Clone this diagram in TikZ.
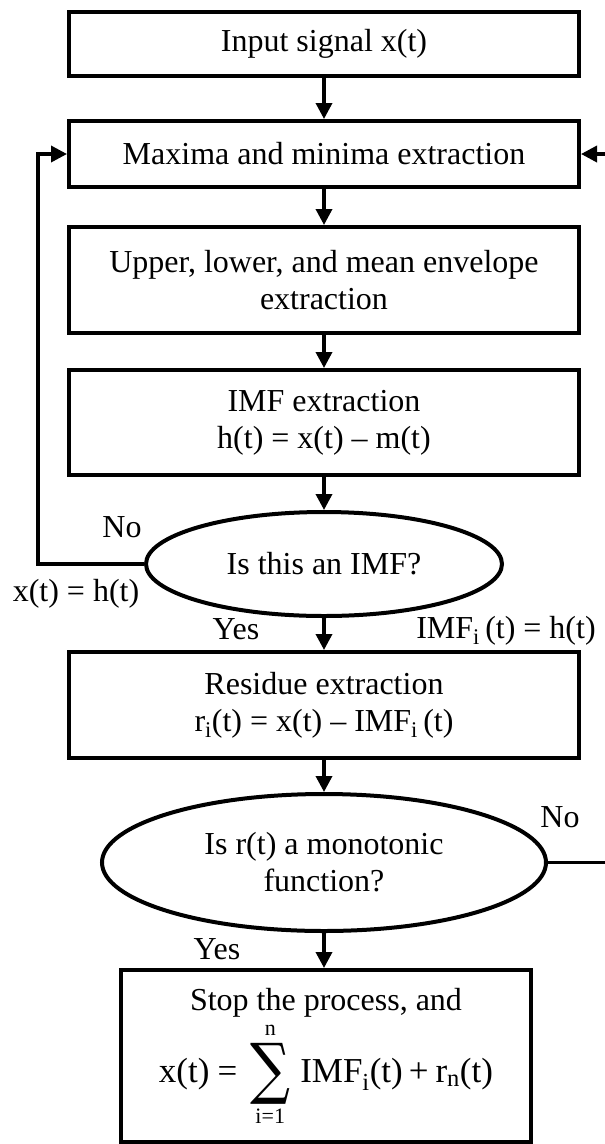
\documentclass[tikz,border=0pt]{standalone}
\usepackage{fontspec}
\setmainfont{Liberation Serif}
\newfontfamily\sumfont{DejaVu Serif}
\usetikzlibrary{arrows.meta,shapes.geometric}

% summation sign with limits set from text fonts: #1 lower, #2 upper limit
\newcommand\sumstack[2]{%
  \raisebox{-40.5pt}{\vbox{\offinterlineskip
    \halign{\hfil##\hfil\cr
      \fontsize{22}{22}\selectfont #2\cr
      \noalign{\kern7pt}
      \resizebox*{40pt}{61pt}{\sumfont ∑}\cr
      \noalign{\kern5pt}
      \fontsize{22}{22}\selectfont #1\cr}}}}

\begin{document}
\begin{tikzpicture}[x=1pt,y=-1pt,
  every node/.style={font=\fontsize{32}{37}\selectfont},
  stepbox/.style={draw, line width=4pt, minimum width=510pt, inner sep=0pt, align=center},
  decision/.style={draw, ellipse, line width=4pt, inner sep=0pt, align=center},
  flow/.style={line width=3.5pt, -{Triangle[length=16pt,width=16pt]}},
  lbl/.style={inner sep=0pt}
]
\useasboundingbox (0,0) rectangle (605,1144);
\clip (0,0) rectangle (605,1144);

% process steps
\node[stepbox, minimum height=64pt]  (input)    at (324,44)    {Input signal x(t)};
\node[stepbox, minimum height=66pt]  (extrema)  at (324,154)   {Maxima and minima extraction};
\node[stepbox, minimum height=106pt] (envelope) at (324,280)   {Upper, lower, and mean envelope\\extraction};
\node[stepbox, minimum height=105pt] (imf)      at (324,422.5) {IMF extraction\\h(t) = x(t) – m(t)};
\node[decision, minimum width=356pt, minimum height=104pt] (isimf) at (324,564) {Is this an IMF?};
\node[stepbox, minimum height=106pt] (residue)  at (324,705)   {Residue extraction\\r\textsubscript{i}(t) = x(t) – IMF\textsubscript{i}\,(t)};
\node[decision, minimum width=444pt, minimum height=137pt] (mono) at (324,862.5) {Is r(t) a monotonic\\function?};
\node[stepbox, minimum width=410pt, minimum height=172pt] (stop) at (326,1056)
  {Stop the process, and\\[7pt]
   {\fontsize{35}{40}\selectfont x(t)\hspace{8pt}=\hspace{13pt}\sumstack{i=1}{n}\hspace{10pt}IMF\textsubscript{i}(t)\hspace{6pt}+\hspace{7pt}r\textsubscript{n}(t)}};

% loop turning points
\coordinate (loopL) at (38,564);
\coordinate (loopR) at (640,862.5);

% main flow
\draw[flow] (input) -- (extrema);
\draw[flow] (extrema) -- (envelope);
\draw[flow] (envelope) -- (imf);
\draw[flow] (imf) -- (isimf);
\draw[flow] (isimf) -- (residue);
\draw[flow] (residue) -- (mono);
\draw[flow] (mono.south) -- (mono.south |- stop.north);

% sifting loop and outer loop
\draw[flow] (isimf.west) -- (loopL) |- (extrema.west);
\draw[flow] (mono.east) -- (loopR) |- (extrema.east);

% branch labels
\node[lbl] (noA)   at (122,527) {No};
\node[lbl] (xeqh)  at (76,594)  {x(t) = h(t)};
\node[lbl] (yesA)  at (236,629) {Yes};
\node[lbl] (imfeq) at (506,631) {IMF\textsubscript{i}\,(t) = h(t)};
\node[lbl] (noB)   at (560,817) {No};
\node[lbl] (yesB)  at (217,949) {Yes};
\end{tikzpicture}
\end{document}
